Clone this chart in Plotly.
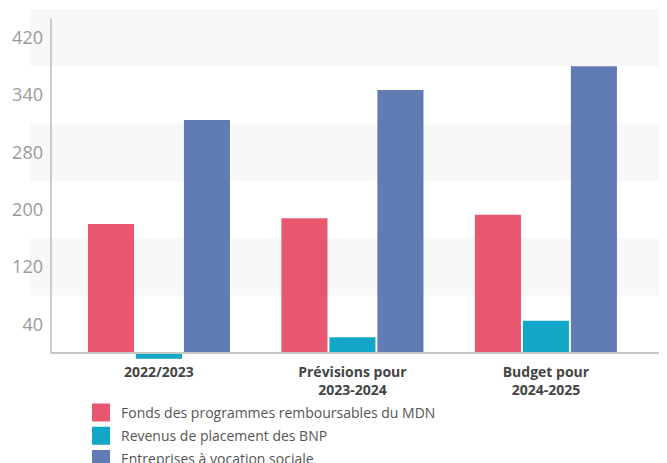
import plotly.graph_objects as go

# ---- data ----
categories = ["2022/2023", "Prévisions pour<br>2023-2024", "Budget pour<br>2024-2025"]
series_names = [
    "Fonds des programmes remboursables du MDN",
    "Revenus de placement des BNP",
    "Entreprises à vocation sociale",
]
mdn_values = [180, 188, 193]
bnp_values = [-8, 22, 45]
social_values = [325, 367, 400]
y_tick_values = [40, 120, 200, 280, 360, 440]
y_tick_labels = ["40", "120", "200", "280", "340", "420"]

colors = ["#E85770", "#12A7C7", "#617BB4"]
x_pos = list(range(len(categories)))

Y_MIN, Y_MAX = -14, 480

fig = go.Figure()
for name, vals, col in zip(series_names, [mdn_values, bnp_values, social_values], colors):
    fig.add_trace(go.Bar(
        x=x_pos, y=vals, name=name, marker=dict(color=col, line=dict(width=0)),
        showlegend=False, hoverinfo="y",
    ))
# legend entries (larger square swatches)
for i, (name, col) in enumerate(zip(series_names, colors)):
    fig.add_trace(go.Scatter(
        x=[None], y=[None], mode="markers", name=name, legendgroup=f"g{i}",
        marker=dict(symbol="square", size=16, color=col, line=dict(color=col, width=2)),
    ))

# alternating background bands
band_fill = "#F8F8F8"
for y0, y1 in [(80, 160), (240, 320), (400, 480)]:
    fig.add_shape(type="rect", xref="paper", yref="y", x0=-0.0344, x1=1.03,
                  y0=y0, y1=y1, fillcolor=band_fill, line=dict(width=0), layer="below")
# y axis line
fig.add_shape(type="line", xref="paper", yref="y", x0=0, x1=0, y0=0, y1=467,
              line=dict(color="#BDBDBD", width=1.5), layer="above")

fig.update_layout(
    width=667, height=463,
    margin=dict(l=43, r=13, t=1, b=108, autoexpand=False),
    paper_bgcolor="white", plot_bgcolor="rgba(0,0,0,0)",
    barmode="group", bargap=0.256, bargroupgap=0.04,
    font=dict(family="Open Sans", color="#555555"),
    xaxis=dict(
        range=[-0.558, 2.6], tickvals=x_pos, ticktext=categories, tickangle=0,
        anchor="free", position=(0 - Y_MIN) / (Y_MAX - Y_MIN),
        showgrid=False, zeroline=False, showline=True, linecolor="#C8C8C8", linewidth=2,
        ticks="", tickfont=dict(family="Open Sans", size=14, color="#444444", weight="bold"),
        ticklabelstandoff=6, automargin=False, layer="above traces",
    ),
    yaxis=dict(
        range=[Y_MIN, Y_MAX], tickvals=y_tick_values, ticktext=y_tick_labels,
        showgrid=False, zeroline=False, showline=False, ticks="",
        tickfont=dict(family="Open Sans", size=18, color="#9A9A9A"),
        ticklabelstandoff=7, automargin=False,
    ),
    legend=dict(
        xref="container", yref="container", x=73/667, y=1-389/463,
        xanchor="left", yanchor="top", itemsizing="trace", tracegroupgap=2,
        font=dict(family="Open Sans", size=14, color="#555555"),
        bgcolor="rgba(0,0,0,0)",
    ),
    showlegend=True,
)

fig.write_html("out.html")
